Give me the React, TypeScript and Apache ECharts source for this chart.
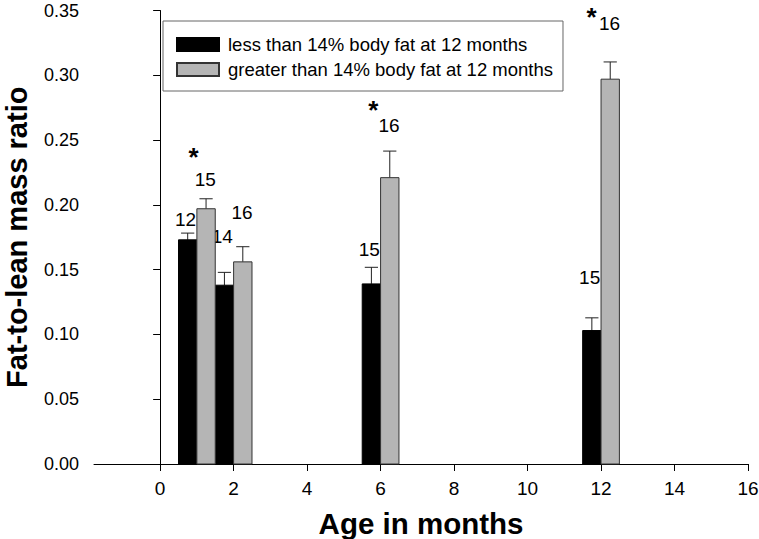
import React, { useEffect, useRef } from "react";
import * as echarts from "echarts";

const months = [1, 2, 6, 12];
const leanValues = [0.173, 0.138, 0.139, 0.103];
const leanErrors = [0.0052, 0.0099, 0.0128, 0.0098];
const fatValues = [0.197, 0.156, 0.221, 0.297];
const fatErrors = [0.0077, 0.0117, 0.0205, 0.0133];
const leanN = [12, 14, 15, 15];
const fatN = [15, 16, 16, 16];
const leanLabelY = [0.1885, 0.1753, 0.1658, 0.1436];
const fatLabelY = [0.2199, 0.1939, 0.2615, 0.3397];
const starX = [0.91, 5.8, 11.74];
const starY = [0.2405, 0.2773, 0.349];
const xTicks = [0, 2, 4, 6, 8, 10, 12, 14, 16];

const FONT = "'Liberation Sans', Arial, Helvetica, sans-serif";

function makeBarSeries(
  name: string,
  values: number[],
  errors: number[],
  ns: number[],
  labelY: number[],
  side: number,
  fill: string,
  stroke: string
) {
  return {
    type: "custom",
    name,
    itemStyle: { color: fill, borderColor: stroke, borderWidth: 1 },
    data: months.map((m, i) => [m, values[i], errors[i], ns[i], labelY[i]]),
    encode: { x: 0, y: 1 },
    clip: false,
    renderItem: (params: any, api: any) => {
      const t = api.value(0);
      const v = api.value(1);
      const e = api.value(2);
      const n = api.value(3);
      const ly = api.value(4);
      const x0 = side < 0 ? t - 0.5 : t;
      const x1 = side < 0 ? t : t + 0.5;
      const xc = (x0 + x1) / 2;
      const pBase = api.coord([x0, 0]);
      const pTop = api.coord([x1, v]);
      const pc = api.coord([xc, v]);
      const pe = api.coord([xc, v + e]);
      const capL = api.coord([xc - 0.18, v + e]);
      const capR = api.coord([xc + 0.18, v + e]);
      const pl = api.coord([xc - (side < 0 ? 0.06 : 0.02), ly]);
      return {
        type: "group",
        children: [
          {
            type: "line",
            shape: { x1: pc[0], y1: pc[1], x2: pe[0], y2: pe[1] },
            style: { stroke: "#222", lineWidth: 1 },
          },
          {
            type: "line",
            shape: { x1: capL[0], y1: capL[1], x2: capR[0], y2: capR[1] },
            style: { stroke: "#222", lineWidth: 1 },
          },
          {
            type: "rect",
            shape: {
              x: pBase[0],
              y: pTop[1],
              width: pTop[0] - pBase[0],
              height: pBase[1] - pTop[1],
            },
            style: { fill, stroke, lineWidth: 1 },
          },
          {
            type: "text",
            x: pl[0],
            y: pl[1],
            style: {
              text: String(n),
              fontSize: 19,
              fontFamily: FONT,
              fill: "#000",
              align: "center",
              verticalAlign: "middle",
            },
          },
        ],
      };
    },
  };
}

export default function App() {
  const ref = useRef<HTMLDivElement>(null);
  useEffect(() => {
    if (!ref.current) return;
    const chart = echarts.init(ref.current, null, { renderer: "svg" });
    const option: any = {
      animation: false,
      backgroundColor: "#fff",
      grid: {
        left: 94,
        right: 11,
        top: 10.5,
        bottom: 75,
        containLabel: false,
        outerBoundsMode: "none",
      },
      legend: {
        orient: "vertical",
        left: 163,
        top: 21,
        padding: [14, 10, 12, 13],
        itemWidth: 42,
        itemHeight: 13,
        itemGap: 6,
        borderColor: "#666",
        borderWidth: 1,
        icon: "rect",
        textStyle: { fontSize: 18.5, fontFamily: FONT, color: "#000", padding: [0, 0, 0, 4] },
        data: [
          "less than 14% body fat at 12 months",
          "greater than 14% body fat at 12 months",
        ],
      },
      xAxis: {
        type: "value",
        min: -1.8,
        max: 16,
        name: "Age in months",
        nameLocation: "middle",
        nameGap: 44,
        nameTextStyle: { fontSize: 29.5, fontWeight: "bold", fontFamily: FONT, color: "#000" },
        axisLine: { show: true, onZero: false, lineStyle: { color: "#000", width: 1 } },
        axisTick: { show: true, length: 7, customValues: xTicks, lineStyle: { color: "#000" } },
        axisLabel: {
          customValues: xTicks,
          fontSize: 19,
          fontFamily: FONT,
          color: "#000",
          margin: 15,
        },
        splitLine: { show: false },
      },
      yAxis: {
        type: "value",
        min: 0,
        max: 0.35,
        interval: 0.05,
        name: "Fat-to-lean mass ratio",
        nameLocation: "middle",
        nameGap: 62.5,
        nameTextStyle: { fontSize: 29, fontWeight: "bold", fontFamily: FONT, color: "#000" },
        axisLine: { show: true, lineStyle: { color: "#000", width: 1 } },
        axisTick: { show: true, length: 7, lineStyle: { color: "#000" } },
        axisLabel: {
          fontSize: 18,
          fontFamily: FONT,
          color: "#000",
          margin: 15,
          formatter: (v: number) => v.toFixed(2),
        },
        splitLine: { show: false },
      },
      series: [
        makeBarSeries(
          "less than 14% body fat at 12 months",
          leanValues,
          leanErrors,
          leanN,
          leanLabelY,
          -1,
          "#000000",
          "#000000"
        ),
        makeBarSeries(
          "greater than 14% body fat at 12 months",
          fatValues,
          fatErrors,
          fatN,
          fatLabelY,
          1,
          "#b5b5b5",
          "#333333"
        ),
        {
          type: "custom",
          name: "significance",
          data: starX.map((x, i) => [x, starY[i]]),
          encode: { x: 0, y: 1 },
          clip: false,
          renderItem: (params: any, api: any) => {
            const p = api.coord([api.value(0), api.value(1)]);
            return {
              type: "text",
              x: p[0],
              y: p[1] + 5,
              style: {
                text: "*",
                fontSize: 26,
                fontWeight: "bold",
                fontFamily: FONT,
                fill: "#000",
                align: "center",
                verticalAlign: "middle",
              },
            };
          },
        },
      ],
    };
    chart.setOption(option);
    return () => chart.dispose();
  }, []);
  return (
    <div
      ref={ref}
      style={{ position: "fixed", left: 0, top: 0, width: 759, height: 539, background: "#fff" }}
    />
  );
}
